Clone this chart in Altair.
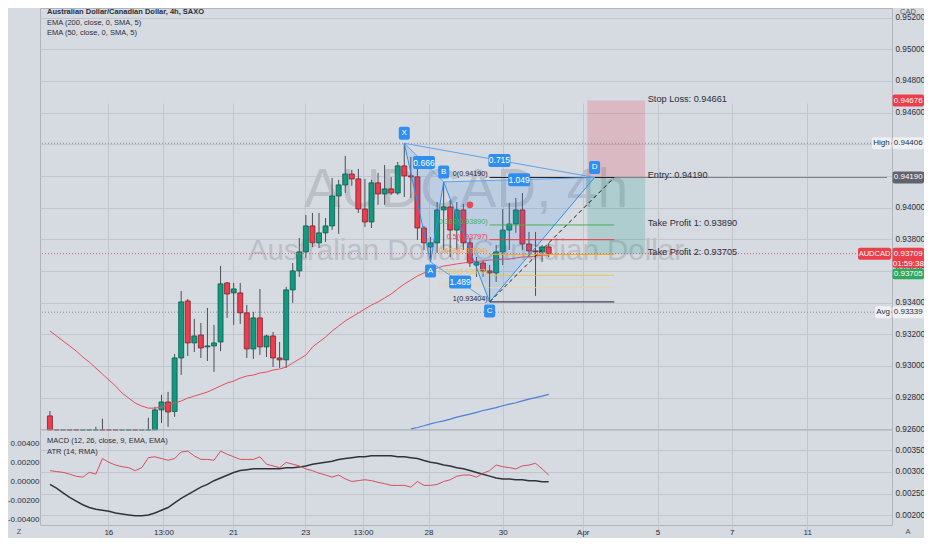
import json
import numpy as np
import pandas as pd
import altair as alt

# ---------------- data ----------------
bar_open = [
    0.92684, 0.92510, 0.92450, 0.92490, 0.92410, 0.92360, 0.92400, 0.92460, 0.92530, 0.92500,
    0.92430, 0.92380, 0.92420, 0.92470, 0.92440, 0.92520, 0.92558, 0.92722, 0.92772, 0.92712,
    0.93050, 0.93410, 0.93145, 0.93195, 0.93120, 0.93126, 0.93151, 0.93524, 0.93461, 0.93461,
    0.93335, 0.93107, 0.93303, 0.93120, 0.93189, 0.93050, 0.93038, 0.93480, 0.93600, 0.93720,
    0.93884, 0.93777, 0.93840, 0.93884, 0.94073, 0.94143, 0.94212, 0.94181, 0.93991, 0.93909,
    0.94156, 0.94086, 0.94118, 0.94092, 0.94263, 0.94200, 0.94194, 0.93871, 0.93751, 0.93777,
    0.93985, 0.94004, 0.93858, 0.93985, 0.93777, 0.93637, 0.93650, 0.93600, 0.93587, 0.93720,
    0.93858, 0.93896, 0.93985, 0.93770, 0.93726, 0.93720, 0.93751]
bar_high = [
    0.92715, 0.92560, 0.92530, 0.92540, 0.92470, 0.92430, 0.92500, 0.92615, 0.92666, 0.92560,
    0.92480, 0.92450, 0.92500, 0.92540, 0.92550, 0.92672, 0.92741, 0.92817, 0.92836, 0.93075,
    0.93473, 0.93423, 0.93297, 0.93271, 0.93366, 0.93259, 0.93631, 0.93530, 0.93524, 0.93524,
    0.93385, 0.93341, 0.93486, 0.93196, 0.93214, 0.93151, 0.93499, 0.93650, 0.93808, 0.93953,
    0.93966, 0.93966, 0.93934, 0.94187, 0.94175, 0.94326, 0.94238, 0.94244, 0.94181, 0.94175,
    0.94219, 0.94269, 0.94193, 0.94288, 0.94406, 0.94320, 0.94257, 0.93884, 0.93814, 0.94035,
    0.94162, 0.94048, 0.94035, 0.94023, 0.93808, 0.93688, 0.93669, 0.93637, 0.93764, 0.93991,
    0.94029, 0.94061, 0.94092, 0.93846, 0.93846, 0.93764, 0.93776]
bar_low = [
    0.92480, 0.92420, 0.92400, 0.92380, 0.92330, 0.92300, 0.92350, 0.92420, 0.92470, 0.92400,
    0.92340, 0.92300, 0.92360, 0.92400, 0.92410, 0.92480, 0.92532, 0.92640, 0.92615, 0.92678,
    0.92943, 0.93063, 0.93088, 0.93050, 0.93031, 0.92962, 0.93093, 0.93303, 0.93259, 0.93265,
    0.93050, 0.93044, 0.93069, 0.93056, 0.92993, 0.92987, 0.92987, 0.93398, 0.93562, 0.93682,
    0.93751, 0.93745, 0.93783, 0.93859, 0.93834, 0.94092, 0.94137, 0.93966, 0.93878, 0.93871,
    0.94017, 0.94017, 0.94080, 0.94080, 0.94067, 0.94061, 0.93796, 0.93732, 0.93656, 0.93713,
    0.93732, 0.93688, 0.93732, 0.93732, 0.93625, 0.93562, 0.93562, 0.93404, 0.93530, 0.93637,
    0.93732, 0.93840, 0.93732, 0.93688, 0.93442, 0.93656, 0.93688]
bar_close = [
    0.92510, 0.92450, 0.92490, 0.92410, 0.92360, 0.92400, 0.92460, 0.92530, 0.92500, 0.92430,
    0.92380, 0.92420, 0.92470, 0.92440, 0.92520, 0.92558, 0.92722, 0.92772, 0.92709, 0.93050,
    0.93404, 0.93145, 0.93189, 0.93113, 0.93126, 0.93145, 0.93518, 0.93454, 0.93486, 0.93335,
    0.93107, 0.93303, 0.93120, 0.93189, 0.93050, 0.93038, 0.93480, 0.93600, 0.93720, 0.93884,
    0.93777, 0.93840, 0.93884, 0.94073, 0.94143, 0.94212, 0.94181, 0.93991, 0.93909, 0.94156,
    0.94086, 0.94118, 0.94092, 0.94263, 0.94200, 0.94194, 0.93871, 0.93777, 0.93777, 0.93985,
    0.94004, 0.93858, 0.93985, 0.93777, 0.93650, 0.93656, 0.93600, 0.93587, 0.93720, 0.93858,
    0.93896, 0.93985, 0.93770, 0.93726, 0.93720, 0.93751, 0.93709]

ema50 = [
    0.93220, 0.93189, 0.93157, 0.93126, 0.93094, 0.93056, 0.93024, 0.92986, 0.92948, 0.92910,
    0.92873, 0.92828, 0.92797, 0.92765, 0.92746, 0.92733, 0.92733, 0.92740, 0.92752, 0.92765,
    0.92778, 0.92797, 0.92809, 0.92822, 0.92835, 0.92854, 0.92873, 0.92892, 0.92904, 0.92923,
    0.92936, 0.92942, 0.92955, 0.92961, 0.92974, 0.92980, 0.92993, 0.93018, 0.93043, 0.93068,
    0.93119, 0.93151, 0.93182, 0.93220, 0.93252, 0.93284, 0.93309, 0.93334, 0.93359, 0.93384,
    0.93404, 0.93429, 0.93454, 0.93486, 0.93517, 0.93542, 0.93568, 0.93587, 0.93606, 0.93618,
    0.93631, 0.93637, 0.93644, 0.93650, 0.93656, 0.93662, 0.93662, 0.93669, 0.93669, 0.93675,
    0.93675, 0.93681, 0.93688, 0.93688, 0.93694, 0.93700, 0.93700]

ema200_first_bar = 55
ema200 = [
    0.92602, 0.92611, 0.92622, 0.92634, 0.92644, 0.92653, 0.92664, 0.92676, 0.92686, 0.92695,
    0.92706, 0.92718, 0.92727, 0.92736, 0.92748, 0.92758, 0.92767, 0.92779, 0.92790, 0.92799,
    0.92809, 0.92820]

macd_line = [
    -0.00029, -0.00068, -0.00117, -0.00165, -0.00204, -0.00243, -0.00272, -0.00291, -0.00301, -0.00311,
    -0.00330, -0.00340, -0.00350, -0.00359, -0.00359, -0.00350, -0.00330, -0.00301, -0.00272, -0.00223,
    -0.00175, -0.00136, -0.00097, -0.00058, -0.00029, 0.00010, 0.00039, 0.00068, 0.00097, 0.00117,
    0.00126, 0.00136, 0.00136, 0.00136, 0.00136, 0.00136, 0.00146, 0.00146, 0.00155, 0.00165,
    0.00184, 0.00194, 0.00204, 0.00214, 0.00233, 0.00243, 0.00252, 0.00262, 0.00262, 0.00272,
    0.00272, 0.00272, 0.00272, 0.00262, 0.00262, 0.00252, 0.00243, 0.00223, 0.00204, 0.00194,
    0.00175, 0.00165, 0.00146, 0.00136, 0.00117, 0.00097, 0.00078, 0.00058, 0.00039, 0.00029,
    0.00029, 0.00019, 0.00019, 0.00010, 0.00010, 0.00000, 0.00000]

atr_line = [
    0.00303, 0.00301, 0.00299, 0.00295, 0.00290, 0.00288, 0.00299, 0.00295, 0.00331, 0.00322,
    0.00316, 0.00312, 0.00310, 0.00303, 0.00310, 0.00333, 0.00335, 0.00331, 0.00327, 0.00331,
    0.00346, 0.00348, 0.00337, 0.00329, 0.00329, 0.00327, 0.00348, 0.00341, 0.00335, 0.00329,
    0.00329, 0.00329, 0.00335, 0.00318, 0.00314, 0.00310, 0.00322, 0.00318, 0.00314, 0.00307,
    0.00303, 0.00297, 0.00293, 0.00288, 0.00293, 0.00284, 0.00278, 0.00280, 0.00282, 0.00280,
    0.00276, 0.00273, 0.00269, 0.00269, 0.00269, 0.00265, 0.00278, 0.00269, 0.00269, 0.00271,
    0.00278, 0.00282, 0.00290, 0.00293, 0.00293, 0.00288, 0.00297, 0.00303, 0.00316, 0.00312,
    0.00310, 0.00307, 0.00314, 0.00316, 0.00320, 0.00307, 0.00293]

# time axis (bar units) and its labels
tick_pos = [8.9, 17.3, 27.9, 38.9, 47.7, 57.7, 69.0, 81.2, 92.6, 103.9, 115.4]
tick_text = ["16", "13:00", "21", "23", "13:00", "28", "30", "Apr", "5", "7", "11"]
price_ticks = [0.926, 0.928, 0.930, 0.932, 0.934, 0.936, 0.938, 0.940, 0.942, 0.944,
               0.946, 0.948, 0.950, 0.952]
macd_ticks = [-0.004, -0.002, 0.0, 0.002, 0.004]
atr_ticks = [0.002, 0.0025, 0.003, 0.0035]

# harmonic XABCD pattern
pat_names = ["X", "A", "B", "C", "D"]
pat_bar = [54, 58, 60, 67, 83]
pat_price = [0.94406, 0.93656, 0.94162, 0.93404, 0.94190]
ratio_text = ["0.666", "0.715", "1.049", "1.489"]
ratio_from = ["X", "X", "B", "A"]
ratio_to = ["B", "D", "D", "C"]

# fibonacci retracement
fib_level = ["0", "0.382", "0.5", "0.618", "0.786", "0.886", "1"]
fib_price = [0.94190, 0.93890, 0.93797, 0.93704, 0.93572, 0.93494, 0.93404]
fib_start_bar, fib_end_bar = 67, 86

# position tool
pos_left_bar, pos_right_bar = 81.9, 90.7
stop_price, entry_price, tp1_price, tp2_price = 0.94676, 0.94190, 0.93890, 0.93705
pos_text = ["Stop Loss: 0.94661", "Entry: 0.94190", "Take Profit 1: 0.93890", "Take Profit 2: 0.93705"]
pos_text_price = [0.94676, 0.94190, 0.93890, 0.93705]
pos_text_bar = 91.1

signal_bar, signal_price = 64, 0.94017
last_price, high_price, avg_price = 0.93709, 0.94406, 0.93339

title_text = "Australian Dollar/Canadian Dollar, 4h, SAXO"
ema_texts = ["EMA (200, close, 0, SMA, 5)", "EMA (50, close, 0, SMA, 5)"]
ind_texts = ["MACD (12, 26, close, 9, EMA, EMA)", "ATR (14, RMA)"]

# ---------------- style ----------------
FONT = "Liberation Sans, Arial, sans-serif"
BG = "#d6dae1"
GRID = "#c1c5cd"
TXT = "#2a2e39"
UP, DOWN = "#12997f", "#ee3d4c"
UP_EDGE, DOWN_EDGE = "#0b5c4c", "#7e2029"
BLUE = "#2e8ff0"
WM = "#bbbfc7"
FIB_COLORS = ["#1e2026", "#4caf50", "#f23645", "#f5a623", "#e3c848", "#e6dca0", "#1e2026"]
X_DOMAIN = [-0.753, 127.56]
PLOT_H = 517

# ---------------- scales / axes ----------------
xs = alt.Scale(domain=X_DOMAIN, nice=False, zero=False)
xaxis = alt.Axis(values=tick_pos,
                 labelExpr=f"{json.dumps(tick_text)}[indexof({json.dumps(tick_pos)}, datum.value)]",
                 grid=True, gridColor=GRID, ticks=False, domain=False, labelFont=FONT,
                 labelFontSize=8, labelColor=TXT, labelPadding=3, title=None,
                 labelOverlap=False, labelFlush=False)
yp = alt.Scale(domain=[0.92595, 0.95311], range=[422, -8], clamp=True, nice=False, zero=False)
ym = alt.Scale(domain=[-0.004563, 0.005437], range=[PLOT_H, 422], nice=False, zero=False)
ya = alt.Scale(domain=[0.001776, 0.003968], range=[PLOT_H, 422], nice=False, zero=False)

paxis = alt.Axis(orient="right", values=price_ticks, labelExpr="format(datum.value, '.5f')",
                 grid=True, gridColor=GRID, ticks=False, domain=False, labelFont=FONT,
                 labelFontSize=8.2, labelColor=TXT, labelPadding=3, title=None,
                 labelOverlap=False, labelFlush=False)
maxis = alt.Axis(orient="left", values=macd_ticks,
                 labelExpr="replace(format(datum.value, '.5f'), '\u2212', '-')",
                 grid=False, ticks=False, domain=False, labelFont=FONT, labelFontSize=8,
                 labelColor=TXT, labelPadding=1, title=None, labelOverlap=False, labelFlush=False)
aaxis = alt.Axis(orient="right", values=atr_ticks, labelExpr="format(datum.value, '.5f')",
                 grid=True, gridColor=GRID, ticks=False, domain=False, labelFont=FONT,
                 labelFontSize=8.2, labelColor=TXT, labelPadding=3, title=None,
                 labelOverlap=False, labelFlush=False)


def X(f):
    return alt.X(f"{f}:Q", scale=xs, axis=xaxis)


def YP(f, axis=None):
    return alt.Y(f"{f}:Q", scale=yp, axis=axis)


one = pd.DataFrame({"k": [0]})

# ---------------- tables ----------------
bars = pd.DataFrame({"i": np.arange(len(bar_open)), "open": bar_open, "high": bar_high,
                     "low": bar_low, "close": bar_close})
bars["dir"] = np.where(bars["close"] >= bars["open"], "up", "down")
ema50_df = pd.DataFrame({"i": np.arange(len(ema50)), "v": ema50})
ema200_df = pd.DataFrame({"i": np.arange(len(ema200)) + ema200_first_bar, "v": ema200})
macd_df = pd.DataFrame({"i": np.arange(len(macd_line)), "v": macd_line})
atr_df = pd.DataFrame({"i": np.arange(len(atr_line)), "v": atr_line})

P = {n: (b, p) for n, b, p in zip(pat_names, pat_bar, pat_price)}


def on_line(b, a, c):
    (b0, p0), (b1, p1) = P[a], P[c]
    return p0 + (p1 - p0) * (b - b0) / (b1 - b0)


tri_df = pd.DataFrame({
    "tri": ["xab"] * 3 + ["bcd"] * 3,
    "i": [P["X"][0], P["A"][0], P["B"][0], P["B"][0], P["C"][0], P["D"][0]],
    "up": [P["X"][1], on_line(P["A"][0], "X", "B"), P["B"][1],
           P["B"][1], on_line(P["C"][0], "B", "D"), P["D"][1]],
    "lo": [P["X"][1], P["A"][1], P["B"][1], P["B"][1], P["C"][1], P["D"][1]],
})
legs_df = pd.DataFrame({"k": range(5), "i": pat_bar, "p": pat_price})
conn_rows = []
for t, a, c in zip(ratio_text, ratio_from, ratio_to):
    conn_rows.append({"pair": t, "i": P[a][0], "p": P[a][1]})
    conn_rows.append({"pair": t, "i": P[c][0], "p": P[c][1]})
conn_df = pd.DataFrame(conn_rows)
ratio_df = pd.DataFrame({"t": ratio_text,
                         "i": [(P[a][0] + P[c][0]) / 2 for a, c in zip(ratio_from, ratio_to)],
                         "p": [(P[a][1] + P[c][1]) / 2 for a, c in zip(ratio_from, ratio_to)]})
pts_df = pd.DataFrame({"n": pat_names, "i": pat_bar, "p": pat_price})
pts_top = pts_df[pts_df["n"].isin(["X", "B", "D"])]
pts_bot = pts_df[pts_df["n"].isin(["A", "C"])]
dash_df = pd.DataFrame({"i": [P["C"][0], fib_end_bar], "p": [P["C"][1], entry_price]})

fib_df = pd.DataFrame({"lvl": fib_level, "p": fib_price,
                       "lab": [f"{l}({p:.5f})" for l, p in zip(fib_level, fib_price)],
                       "x0": fib_start_bar, "x1": fib_end_bar})
pos_df = pd.DataFrame({"x0": [pos_left_bar], "x1": [pos_right_bar], "top": [stop_price],
                       "mid": [entry_price], "bot": [tp2_price]})
pos_txt_df = pd.DataFrame({"t": pos_text, "p": pos_text_price, "i": pos_text_bar})
ray_df = pd.DataFrame({"x0": [fib_end_bar], "x1": [X_DOMAIN[1]], "p": [entry_price]})

fib_color = alt.Color("lvl:N", scale=alt.Scale(domain=fib_level, range=FIB_COLORS), legend=None)

layers = []

# watermark (centred on the price pane)
layers.append(alt.Chart(pd.DataFrame({"t": ["AUDCAD, 4h"]})).mark_text(
    font=FONT, fontSize=55, color=WM, align="center", baseline="alphabetic"
).encode(text="t:N", x=alt.value(426), y=alt.value(199)))
layers.append(alt.Chart(pd.DataFrame({"t": ["Australian Dollar/Canadian Dollar"]})).mark_text(
    font=FONT, fontSize=29.5, color=WM, align="center", baseline="alphabetic"
).encode(text="t:N", x=alt.value(426), y=alt.value(252)))

# position tool boxes
layers.append(alt.Chart(pos_df).mark_rect(color="#f23645", opacity=0.2).encode(
    x=X("x0"), x2=alt.X2("x1:Q"), y=YP("top"), y2=alt.Y2("mid:Q")))
layers.append(alt.Chart(pos_df).mark_rect(color="#089981", opacity=0.2).encode(
    x=X("x0"), x2=alt.X2("x1:Q"), y=YP("mid"), y2=alt.Y2("bot:Q")))

# dotted info lines
layers.append(alt.Chart(pd.DataFrame({"p": [high_price, avg_price]})).mark_rule(
    color="#8a8e97", strokeDash=[1, 2], strokeWidth=1).encode(y=YP("p")))

# candles
layers.append(alt.Chart(bars).mark_rule(color="#4b4e57", strokeWidth=1).encode(
    x=X("i"), y=YP("low"), y2=alt.Y2("high:Q")))
layers.append(alt.Chart(bars).mark_bar(size=5, strokeWidth=0.8).encode(
    x=X("i"), y=YP("open"), y2=alt.Y2("close:Q"),
    fill=alt.Fill("dir:N", scale=alt.Scale(domain=["up", "down"], range=[UP, DOWN]), legend=None),
    stroke=alt.Stroke("dir:N", scale=alt.Scale(domain=["up", "down"], range=[UP_EDGE, DOWN_EDGE]),
                      legend=None)))

# moving averages
layers.append(alt.Chart(ema200_df).mark_line(color="#4a7fd8", strokeWidth=1.2).encode(
    x=X("i"), y=YP("v")))
layers.append(alt.Chart(ema50_df).mark_line(color="#e4505c", strokeWidth=1).encode(
    x=X("i"), y=YP("v", paxis)))

# pattern fills
layers.append(alt.Chart(tri_df).mark_area(color=BLUE, opacity=0.15).encode(
    x=X("i"), y=YP("up"), y2=alt.Y2("lo:Q"), detail="tri:N"))

# last price line
layers.append(alt.Chart(pd.DataFrame({"p": [last_price]})).mark_rule(
    color="#e0606b", strokeDash=[1, 2], strokeWidth=1).encode(y=YP("p")))

# fib levels
layers.append(alt.Chart(fib_df).mark_rule(strokeWidth=1).encode(
    x=X("x0"), x2=alt.X2("x1:Q"), y=YP("p"), color=fib_color))
layers.append(alt.Chart(ray_df).mark_rule(color="#7d818a", strokeWidth=1).encode(
    x=X("x0"), x2=alt.X2("x1:Q"), y=YP("p")))
layers.append(alt.Chart(fib_df).mark_text(align="right", baseline="bottom", dx=-2, dy=1,
                                          font=FONT, fontSize=7.2).encode(
    x=X("x0"), y=YP("p"), text="lab:N", color=fib_color))

layers.append(alt.Chart(conn_df).mark_line(color="#5ea3ee", strokeWidth=1).encode(
    x=X("i"), y=YP("p"), detail="pair:N"))
layers.append(alt.Chart(legs_df).mark_line(color=BLUE, strokeWidth=1).encode(
    x=X("i"), y=YP("p"), order="k:Q"))
layers.append(alt.Chart(dash_df).mark_line(color="#1b1d22", strokeDash=[4, 3], strokeWidth=1).encode(
    x=X("i"), y=YP("p")))

# signal dot
layers.append(alt.Chart(pd.DataFrame({"i": [signal_bar], "p": [signal_price]})).mark_circle(
    size=45, color="#e8485a", opacity=1).encode(x=X("i"), y=YP("p")))

# panel separator
layers.append(alt.Chart(one).mark_rule(color="#a9adb5", strokeWidth=1).encode(y=alt.value(422)))

# indicators
layers.append(alt.Chart(macd_df).mark_line(color="#30333b", strokeWidth=1.5).encode(
    x=X("i"), y=alt.Y("v:Q", scale=ym, axis=maxis)))
layers.append(alt.Chart(atr_df).mark_line(color="#d6505d", strokeWidth=1).encode(
    x=X("i"), y=alt.Y("v:Q", scale=ya, axis=aaxis)))

# position tool texts
layers.append(alt.Chart(pos_txt_df).mark_text(align="left", baseline="alphabetic", dy=1,
                                              font=FONT, fontSize=9.2, color=TXT).encode(
    x=X("i"), y=YP("p"), text="t:N"))

# ratio labels
layers.append(alt.Chart(ratio_df).mark_rect(color=BLUE, cornerRadius=2, xOffset=-11, x2Offset=11,
                                            yOffset=-6.5, y2Offset=6.5).encode(
    x=X("i"), x2=alt.X2("i:Q"), y=YP("p"), y2=alt.Y2("p:Q")))
layers.append(alt.Chart(ratio_df).mark_text(color="white", font=FONT, fontSize=8.5,
                                            baseline="middle").encode(
    x=X("i"), y=YP("p"), text="t:N"))

# point labels
for sub, off in [(pts_top, -10), (pts_bot, 9)]:
    layers.append(alt.Chart(sub).mark_rect(color=BLUE, cornerRadius=2, xOffset=-5.5, x2Offset=5.5,
                                           yOffset=off - 6.5, y2Offset=off + 6.5).encode(
        x=X("i"), x2=alt.X2("i:Q"), y=YP("p"), y2=alt.Y2("p:Q")))
    layers.append(alt.Chart(sub).mark_text(color="white", font=FONT, fontSize=8, dy=off,
                                           baseline="middle").encode(
        x=X("i"), y=YP("p"), text="n:N"))


# price tags on the scale
def tag(price, text, fill, tcolor, x0, x1, top=-6, bottom=6, tdy=0, texts=None, size=8):
    d = pd.DataFrame({"p": [price], "t": [text]})
    out = [alt.Chart(d).mark_rect(fill=fill, cornerRadius=2, yOffset=top, y2Offset=bottom).encode(
        x=alt.value(x0), x2=alt.value(x1), y=YP("p"), y2=alt.Y2("p:Q"))]
    for t, dy in (texts or [(text, tdy)]):
        dd = pd.DataFrame({"p": [price], "t": [t]})
        out.append(alt.Chart(dd).mark_text(color=tcolor, font=FONT, fontSize=size, dy=dy,
                                           align="center", baseline="middle").encode(
            x=alt.value((x0 + x1) / 2), y=YP("p"), text="t:N"))
    return out


layers += tag(stop_price, "0.94676", "#ec3f4c", "white", 852.5, 884)
layers += tag(high_price, "High", "#eef0f4", TXT, 832, 851)
layers += tag(high_price, "0.94406", "#eef0f4", TXT, 852.5, 884)
layers += tag(entry_price, "0.94190", "#61646d", "white", 852.5, 884)
layers += tag(last_price, "AUDCAD", "#ec3f4c", "white", 818, 851, size=7.5)
layers += tag(last_price, "0.93709", "#ec3f4c", "white", 852.5, 884, top=-6, bottom=14,
              texts=[("0.93709", 0), ("01:59:38", 10)])
layers += tag(tp2_price, "0.93705", "#2fa95a", "white", 852.5, 884, top=14.5, bottom=25, tdy=20)
layers += tag(avg_price, "Avg", "#eef0f4", TXT, 835, 851)
layers += tag(avg_price, "0.93339", "#eef0f4", TXT, 852.5, 884)

# legend texts
layers.append(alt.Chart(pd.DataFrame({"t": [title_text]})).mark_text(
    font=FONT, fontSize=7.5, fontWeight="bold", color=TXT, align="left", baseline="middle"
).encode(text="t:N", x=alt.value(7), y=alt.value(4)))
for k, t in enumerate(ema_texts):
    layers.append(alt.Chart(pd.DataFrame({"t": [t]})).mark_text(
        font=FONT, fontSize=7.5, color=TXT, align="left", baseline="middle"
    ).encode(text="t:N", x=alt.value(7), y=alt.value(14.5 + 10.6 * k)))
for k, t in enumerate(ind_texts):
    layers.append(alt.Chart(pd.DataFrame({"t": [t]})).mark_text(
        font=FONT, fontSize=7.5, color=TXT, align="left", baseline="middle"
    ).encode(text="t:N", x=alt.value(7), y=alt.value(433 + 11 * k)))

# corner texts
for t, xv, yv in [("CAD", 868, 4), ("Z", -21, PLOT_H + 7), ("A", 868, PLOT_H + 7)]:
    layers.append(alt.Chart(pd.DataFrame({"t": [t]})).mark_text(
        font=FONT, fontSize=7.5, color="#50535e", align="center", baseline="middle"
    ).encode(text="t:N", x=alt.value(xv), y=alt.value(yv)))

chart = alt.layer(*layers).resolve_scale(y="independent").properties(
    width=852, height=PLOT_H, background=BG,
    padding={"left": 32, "top": 0, "right": 32, "bottom": 13},
    autosize=alt.AutoSizeParams(type="none"),
).configure_view(stroke="#b0b4bc", strokeWidth=1)

chart.save("out.html", embed_options={"renderer": "svg", "actions": False})
